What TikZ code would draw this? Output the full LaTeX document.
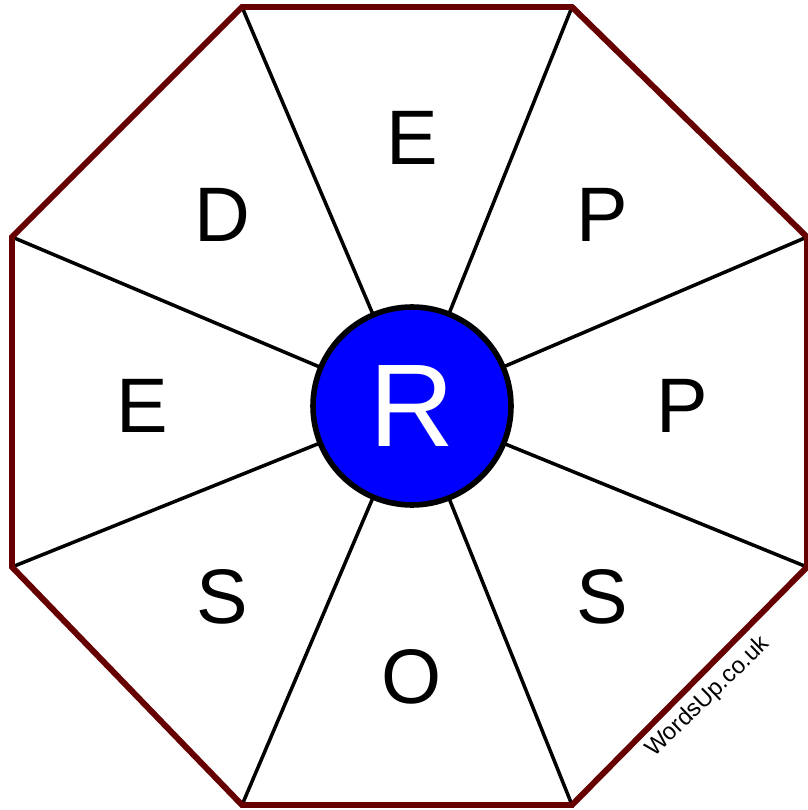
\documentclass[tikz,border=0pt]{standalone}
\usepackage{fontspec}
\setmainfont{Liberation Sans}
\usetikzlibrary{positioning}

\begin{document}
\begin{tikzpicture}[
    x=0.02cm, y=-0.02cm,
    rim/.style={draw=rimred, line width=3.4pt, line join=miter},
    spoke/.style={draw=black, line width=2pt},
    letter/.style={font=\fontsize{44}{44}\selectfont, text=black},
    hub/.style={circle, draw=black, line width=3.2pt, fill=hubblue, inner sep=0pt, text=white, font=\fontsize{67}{67}\selectfont},
    sitemark/.style={font=\fontsize{13.5}{13.5}\selectfont, rotate=44}
]
    \definecolor{rimred}{RGB}{102,0,0}
    \definecolor{hubblue}{RGB}{0,0,255}
    \useasboundingbox (0,0) rectangle (807,810);

    % octagon corners
    \coordinate (c1) at (242,7);
    \coordinate (c2) at (572,7);
    \coordinate (c3) at (807,237);
    \coordinate (c4) at (807,567);
    \coordinate (c5) at (572,805);
    \coordinate (c6) at (242,805);
    \coordinate (c7) at (12,567);
    \coordinate (c8) at (12,237);
    \coordinate (mid) at (412,406);

    \foreach \c in {c1,c2,c3,c4,c5,c6,c7,c8}
        \draw[spoke] (mid) -- (\c);
    \draw[rim] (c1) -- (c2) -- (c3) -- (c4) -- (c5) -- (c6) -- (c7) -- (c8) -- cycle;

    \node[hub, minimum size=3.96cm] (hub) at (mid) {R};

    \node[letter] (top) at (412,138) {E};
    \node[letter] (topright) at (602,215) {P};
    \node[letter] (right) at (682,406) {P};
    \node[letter] (botright) at (602,597) {S};
    \node[letter] (bottom) at (412,677) {O};
    \node[letter] (botleft) at (222,597) {S};
    \node[letter] (left) at (142,406) {E};
    \node[letter] (topleft) at (222,215) {D};

    \node[sitemark] (site) at (708,697) {WordsUp.co.uk};
\end{tikzpicture}
\end{document}
